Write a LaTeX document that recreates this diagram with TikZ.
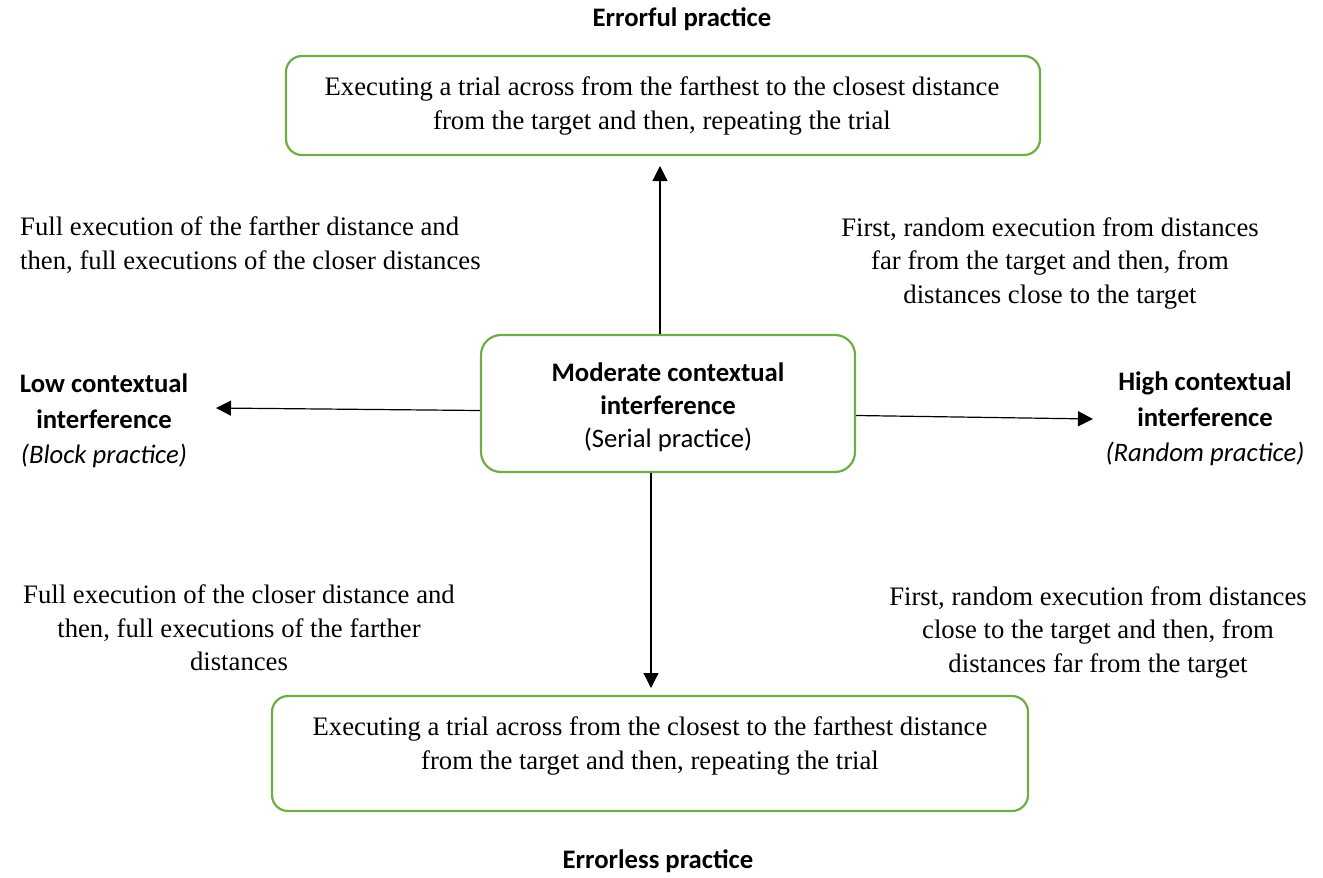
\documentclass[tikz,border=0pt]{standalone}
\usepackage{fontspec}
\setmainfont{Liberation Serif}
\newfontfamily\calib{Carlito}
\usetikzlibrary{arrows.meta}
\definecolor{boxgreen}{HTML}{70AD47}
\begin{document}
\begin{tikzpicture}[x=1pt,y=-1pt,
  greenbox/.style={draw=boxgreen,line width=2.2pt,rounded corners=16pt,inner sep=0pt,align=center,font=\fontsize{26.7}{33.5}\selectfont},
  serif/.style={inner sep=0pt,align=center,font=\fontsize{26.7}{33.5}\selectfont},
  cal/.style={inner sep=0pt,align=center,font=\calib\fontsize{26.7}{35.5}\selectfont},
  arr/.style={line width=1.2pt,-{Triangle[length=15pt,width=15pt]}}]
\useasboundingbox (0,0) rectangle (1323,878);
% boxes
\node[greenbox,minimum width=754pt,minimum height=99pt] (top) at (663,105.5) {};
\node[serif] (toptext) at (662,106) {Executing a trial across from the farthest to the closest distance\\from the target and then, repeating the trial};
\node[greenbox,minimum width=374pt,minimum height=137pt,rounded corners=20pt] (mid) at (668,403.5) {};
\node[inner sep=0pt,align=center,font=\calib\fontsize{26.7}{33}\selectfont] (midtext) at (668,407)
  {\textbf{Moderate contextual}\\\textbf{interference}\\(Serial practice)};
\node[greenbox,minimum width=756pt,minimum height=115pt] (bot) at (650,753.5) {};
\node[serif] (bottext) at (650,746) {Executing a trial across from the closest to the farthest distance\\from the target and then, repeating the trial};
% titles
\node[cal,font=\calib\bfseries\fontsize{26.7}{33}\selectfont] (errful) at (682,19) {Errorful practice};
\node[cal,font=\calib\bfseries\fontsize{26.7}{33}\selectfont] (errless) at (658,861) {Errorless practice};
\node[cal] (low) at (104,421) {\textbf{Low contextual}\\\textbf{interference}\\\textit{(Block practice)}};
\node[cal] (high) at (1205,419) {\textbf{High contextual}\\\textbf{interference}\\\textit{(Random practice)}};
% descriptions
\node[serif,align=left,anchor=west] (tl) at (20,245) {Full execution of the farther distance and\\then, full executions of the closer distances};
\node[serif] (tr) at (1050,263) {First, random execution from distances\\far from the target and then, from\\distances close to the target};
\node[serif] (bl) at (239,628) {Full execution of the closer distance and\\then, full executions of the farther\\distances};
\node[serif] (br) at (1098,632) {First, random execution from distances\\close to the target and then, from\\distances far from the target};
% arrow ends
\coordinate (upend) at (660,166);
\coordinate (leftend) at (216,408);
\coordinate (rightend) at (1093,419);
\coordinate (downend) at (651,688);
\draw[arr] (mid.north -| upend) -- (upend);
\draw[arr] (mid.west) ++(0,7) -- (leftend);
\draw[arr] (mid.east) ++(0,12) -- (rightend);
\draw[arr] (mid.south -| downend) -- (downend);
\end{tikzpicture}
\end{document}
